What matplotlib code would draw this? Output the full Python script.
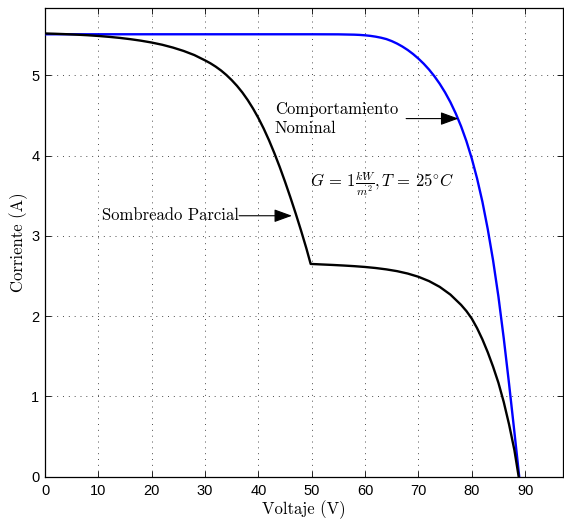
import matplotlib
matplotlib.use("Agg")
import matplotlib.pyplot as plt

plt.rcParams['mathtext.fontset'] = 'cm'
plt.rcParams['axes.formatter.use_mathtext'] = True

# Nominal curve (blue)
v_nominal = [0, 20, 40, 50, 55, 58, 59, 60, 61, 62, 63, 64, 65, 66, 67, 68, 69, 70, 71, 72, 73,
             74, 75, 76, 77, 78, 79, 80, 81, 82, 83, 84, 85, 86, 87, 88, 88.9]
i_nominal = [5.51, 5.51, 5.51, 5.51, 5.509, 5.505, 5.502, 5.497, 5.490, 5.480, 5.467, 5.450, 5.425,
             5.394, 5.357, 5.314, 5.264, 5.207, 5.143, 5.070, 4.987, 4.893, 4.786, 4.664, 4.524,
             4.364, 4.179, 3.964, 3.714, 3.424, 3.084, 2.694, 2.244, 1.724, 1.154, 0.554, 0.0]

# Partially shaded curve (black)
v_shaded = [0, 2, 4, 6, 8, 10, 12, 14, 16, 18, 20, 22, 24, 26, 28, 30, 31, 32, 33, 34, 35, 36,
            37, 38, 39, 40, 41, 42, 43, 44, 45, 46, 47, 48, 49, 49.8,
            52, 54, 56, 58, 60, 62, 64, 66, 68, 70, 72, 74, 76, 78, 79, 80, 81, 82, 83, 84,
            85, 86, 87, 88, 88.8]
i_shaded = [5.52, 5.516, 5.511, 5.505, 5.498, 5.489, 5.478, 5.465, 5.449, 5.430, 5.407, 5.379,
            5.344, 5.302, 5.251, 5.185, 5.149, 5.107, 5.059, 5.003, 4.939, 4.867, 4.785, 4.691,
            4.585, 4.467, 4.335, 4.189, 4.029, 3.857, 3.673, 3.479, 3.277, 3.065, 2.843, 2.65,
            2.643, 2.637, 2.630, 2.622, 2.612, 2.599, 2.582, 2.560, 2.530, 2.490, 2.436, 2.364,
            2.268, 2.140, 2.063, 1.970, 1.85, 1.71, 1.55, 1.37, 1.17, 0.93, 0.65, 0.33, 0.0]

x_ticks = [0, 10, 20, 30, 40, 50, 60, 70, 80, 90]
y_ticks = [0, 1, 2, 3, 4, 5]

fig = plt.figure(figsize=(5.64, 5.21), dpi=100)
ax = fig.add_axes([0.0798, 0.085, 0.9193, 0.899])

ax.plot(v_nominal, i_nominal, color=(0, 0, 1), lw=1.7, solid_joinstyle='round', zorder=3)
ax.plot(v_shaded, i_shaded, color='black', lw=1.7, solid_joinstyle='round', zorder=3)

ax.set_xlim(0, 97.2)
ax.set_ylim(0, 5.833)
ax.set_xticks(x_ticks)
ax.set_yticks(y_ticks)
ax.set_xticklabels([str(t) for t in x_ticks], family='Liberation Sans', fontsize=10.5)
ax.set_yticklabels([str(t) for t in y_ticks], family='Liberation Sans', fontsize=10.5)
ax.tick_params(direction='in', length=4, width=0.6, top=True, right=True)
ax.tick_params(axis='x', pad=5)
ax.tick_params(axis='y', pad=4)
for s in ax.spines.values():
    s.set_linewidth(0.9)

ax.grid(True, color='0.3', linestyle=(0, (1, 5)), linewidth=0.7)
ax.set_axisbelow(True)

ax.set_xlabel('Voltaje (V)', family='cmr10', fontsize=12, labelpad=2)
ax.set_ylabel('Corriente (A)', family='cmr10', fontsize=12, labelpad=2)

arrow_kw = dict(arrowstyle='-|>,head_length=0.55,head_width=0.2', color='black', lw=0.8,
                mutation_scale=20, shrinkA=0, shrinkB=0)

ax.text(66.2, 4.455, 'Comportamiento\nNominal', family='cmr10', fontsize=12,
        ha='right', va='center', multialignment='left', linespacing=1.25)
ax.annotate('', xy=(77.5, 4.46), xytext=(67.7, 4.46), arrowprops=arrow_kw)

ax.text(36.4, 3.25, 'Sombreado Parcial', family='cmr10', fontsize=12, ha='right', va='center')
ax.annotate('', xy=(46.3, 3.25), xytext=(36.4, 3.25), arrowprops=arrow_kw)

ax.text(49.7, 3.65, r'$G\,=\,1\frac{kW}{m^2}, T\,=\,25^{\circ}C$', fontsize=12,
        ha='left', va='center')

fig.savefig('out.png', dpi=100)
